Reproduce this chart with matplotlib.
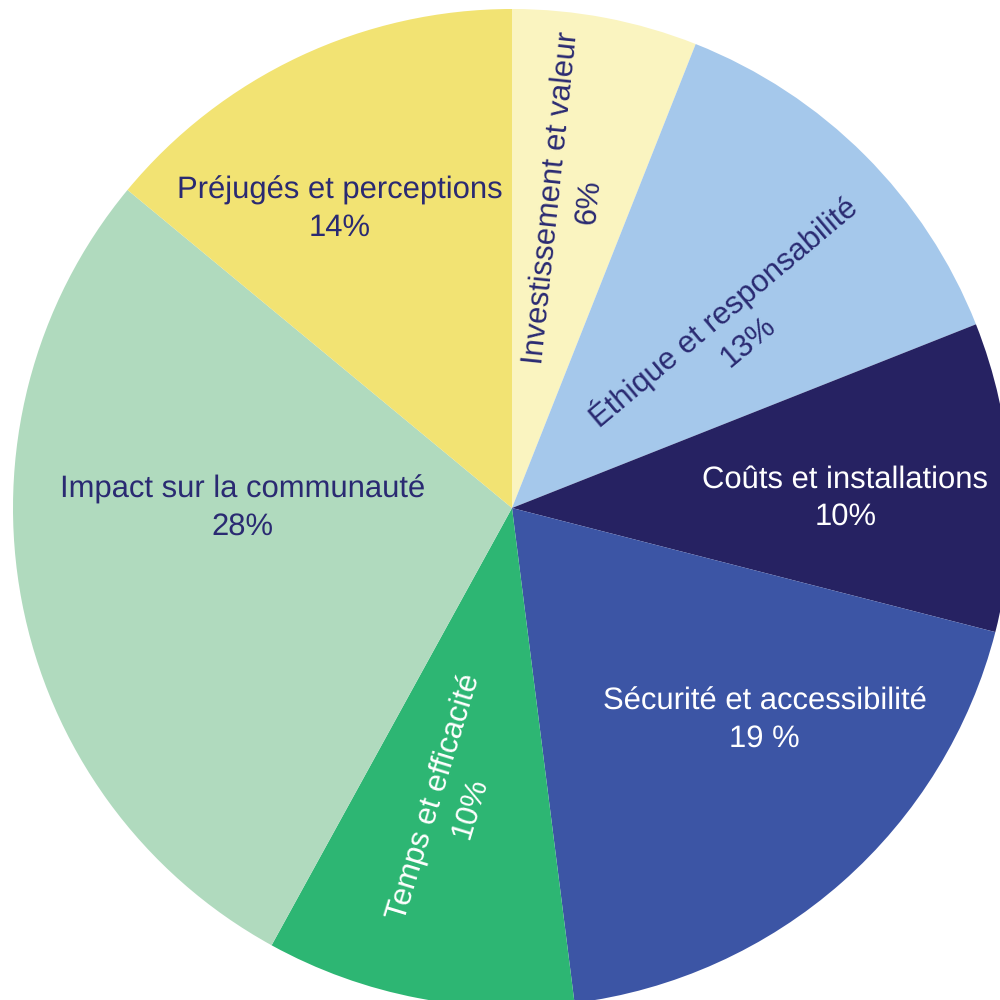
import numpy as np
import matplotlib
matplotlib.use('Agg')
import matplotlib.pyplot as plt

plt.rcParams['font.family'] = ['Liberation Sans', 'DejaVu Sans']
plt.rcParams['text.hinting'] = 'no_hinting'
plt.rcParams['text.hinting_factor'] = 1

# data, clockwise from 12 o'clock
labels = ['Investissement et valeur', 'Éthique et responsabilité', 'Coûts et installations',
          'Sécurité et accessibilité', 'Temps et efficacité', 'Impact sur la communauté',
          'Préjugés et perceptions']
values = [6, 13, 10, 19, 10, 28, 14]
pct_text = ['6%', '13%', '10%', '19 %', '10%', '28%', '14%']

colors = ['#faf4c0', '#a5c8eb', '#262262', '#3c55a5', '#2db673', '#b0dabe', '#f2e373']
text_colors = ['#2a2a72', '#2a2a72', 'white', 'white', 'white', '#2a2a72', '#2a2a72']
# label placement: (radius fraction, angle in degrees, rotation)
label_pos = [(0.628, 79.3, 84), (0.577, 39.2, 40), (0.668, 1.7, 0), (0.661, -40.0, 0),
             (0.603, -101.5, 73), (0.540, 180.0, 0), (0.692, 120.0, 0)]

fig = plt.figure(figsize=(10, 10), dpi=100)
ax = fig.add_axes([0, 0, 1, 1])

R = 499.0
cx, cy = 512.0, 508.0
ax.pie(values, colors=colors, startangle=90, counterclock=False, radius=1.0,
       wedgeprops=dict(linewidth=0))
ax.set_aspect('auto')
ax.set_xlim(-cx / R, (1000 - cx) / R)
ax.set_ylim(-(1000 - cy) / R, cy / R)
ax.axis('off')

for i in range(len(labels)):
    r, ang, rot = label_pos[i]
    x = r * np.cos(np.radians(ang))
    y = r * np.sin(np.radians(ang))
    ax.text(x, y, labels[i] + '\n' + pct_text[i], ha='center', va='center',
            multialignment='center', rotation=rot, rotation_mode='anchor',
            fontsize=22.4, color=text_colors[i], linespacing=1.37)

fig.savefig('out.png', dpi=100)
